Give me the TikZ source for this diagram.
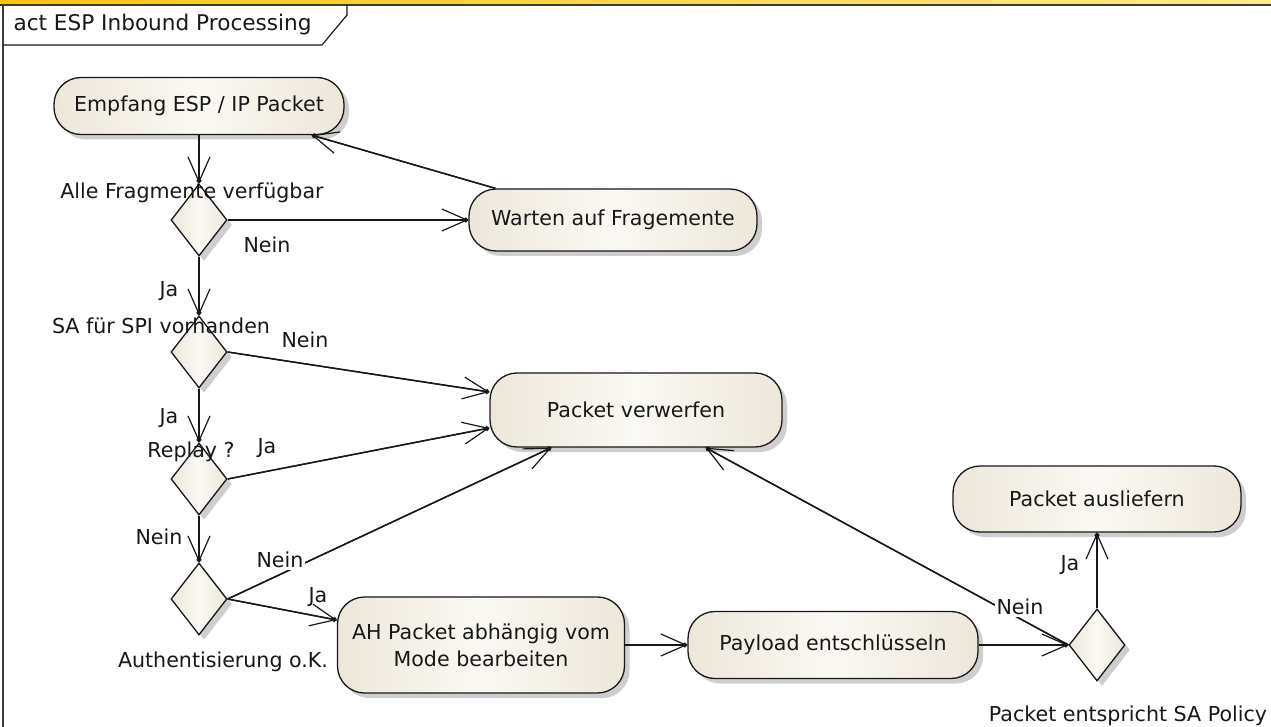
\documentclass[tikz,border=0pt]{standalone}
\usepackage{fontspec}
\setmainfont{DejaVu Sans}
\usetikzlibrary{shapes.geometric,shadows,arrows.meta,calc}
\definecolor{ink}{RGB}{24,24,24}
\definecolor{creamA}{RGB}{237,231,218}
\definecolor{creamB}{RGB}{251,249,244}
\definecolor{goldA}{RGB}{247,198,20}
\definecolor{goldB}{RGB}{255,232,140}
\definecolor{framegray}{RGB}{60,60,60}

\begin{document}
\begin{tikzpicture}[x=1pt,y=-1pt,
  every node/.style={font=\fontsize{20.6}{24}\selectfont, text=ink},
  shadowed/.style={drop shadow={shadow xshift=5pt,shadow yshift=-5pt,fill=black!35,opacity=0.55}},
  act/.style={draw=ink, line width=1.3pt, rounded corners=27pt,
    left color=creamA, right color=creamA, middle color=creamB, shadowed,
    minimum width=288pt, minimum height=62pt, align=center, inner sep=0pt},
  dec/.style={diamond, draw=ink, line width=1.3pt,
    left color=creamA, right color=creamA, middle color=creamB, shadowed,
    minimum width=56pt, minimum height=72pt, inner sep=0pt},
  flow/.style={draw=ink, line width=1.4pt,
    -{Straight Barb[length=25pt,width=22pt,line width=1.2pt]},
    postaction={draw, -{Circle[length=5pt]}}},
  lbl/.style={inner sep=1pt},
  cut/.style={inner sep=2pt, fill=white},
]
\useasboundingbox (0,0) rectangle (1271,727);
\fill[white] (0,0) rectangle (1271,727);

% window band and frame
\shade[left color=goldA, right color=goldB] (0,0) rectangle (1271,4.5);
\draw[framegray, line width=2pt] (0,5.5) -- (1271,5.5);
\draw[framegray, line width=2pt] (3,5) -- (3,727);

% diagram name tab
\draw[ink, line width=1.2pt] (3,45) -- (322,45) -- (347,15) -- (347,5);
\node[anchor=west, font=\fontsize{21.6}{24}\selectfont] (title) at (10,25) {act ESP Inbound Processing};

% actions
\node[act, minimum width=290pt, minimum height=57pt] (empf) at (199,106) {Empfang ESP / IP Packet};
\node[act] (wait) at (613,220) {Warten auf Fragemente};
\node[act, minimum width=292pt, minimum height=74pt] (pv) at (636,410) {Packet verwerfen};
\node[act, minimum width=287pt, minimum height=96pt, font=\fontsize{20.6}{27}\selectfont] (ah) at (481,645) {AH Packet abhängig vom\\Mode bearbeiten};
\node[act, minimum width=290pt, minimum height=67pt] (pay) at (833,645) {Payload entschlüsseln};
\node[act, minimum height=66pt] (pa) at (1097,499) {Packet ausliefern};

% decisions
\node[dec] (d1) at (199,220) {};
\node[dec] (d2) at (199,352) {};
\node[dec] (d3) at (199,479) {};
\node[dec] (d4) at (199,599) {};
\node[dec] (d5) at (1097,645) {};

% control flows
\draw[flow] (empf.south) -- (d1.north);
\draw[flow] (d1.east) -- (wait.west);
\draw[flow] ($(wait.north west)+(27,0)$) -- ($(empf.south east)+(-33,0)$);
\draw[flow] (d1.south) -- (d2.north);
\draw[flow] (d2.east) -- ($(pv.west)+(0,-18)$);
\draw[flow] (d2.south) -- (d3.north);
\draw[flow] (d3.east) -- ($(pv.west)+(0,18)$);
\draw[flow] (d3.south) -- (d4.north);
\draw[flow] (d4.east) -- ($(pv.south west)+(62,0)$);
\draw[flow] (d4.east) -- ($(ah.west)+(0,-25)$);
\draw[flow] (ah.east) -- (pay.west);
\draw[flow] (pay.east) -- (d5.west);
\draw[flow] (d5.west) -- ($(pv.south east)+(-77,0)$);
\draw[flow] (d5.north) -- (pa.south);

% guards and decision names
\node[lbl] (n1) at (192,193) {Alle Fragmente verfügbar};
\node[lbl] (g1) at (267,245) {Nein};
\node[lbl] (g2) at (169,291) {Ja};
\node[lbl] (n2) at (161,326) {SA für SPI vorhanden};
\node[lbl] (g3) at (305,340) {Nein};
\node[lbl] (g4) at (169,418) {Ja};
\node[lbl] (n3) at (191,452) {Replay ?};
\node[lbl] (g5) at (267,448) {Ja};
\node[lbl] (g6) at (159,537) {Nein};
\node[cut] (g7) at (280,560) {Nein};
\node[lbl] (g8) at (318,597) {Ja};
\node[lbl] (n4) at (223,662) {Authentisierung o.K.};
\node[cut] (g9) at (1020,607) {Nein};
\node[lbl] (g10) at (1070,565) {Ja};
\node[lbl] (n5) at (1128,716) {Packet entspricht SA Policy};
\end{tikzpicture}
\end{document}
